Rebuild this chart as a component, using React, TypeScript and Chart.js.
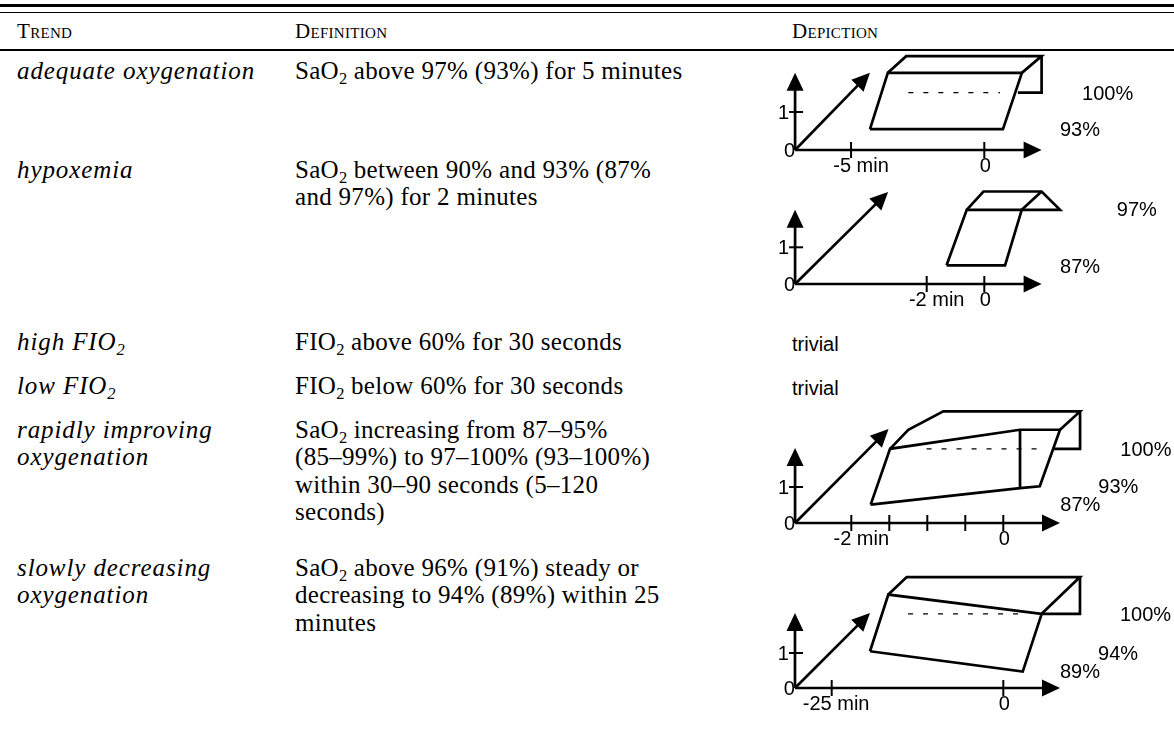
import React, { useEffect, useRef } from "react";
import { Chart, registerables } from "chart.js";

Chart.register(...registerables);

// ---------------- table text ----------------
const headers = ["Trend", "Definition", "Depiction"];

const trendRows: string[][] = [
  ["adequate oxygenation"],
  ["hypoxemia"],
  ["high FIO_2"],
  ["low FIO_2"],
  ["rapidly improving", "oxygenation"],
  ["slowly decreasing", "oxygenation"],
];

const definitionRows: string[][] = [
  ["SaO_2 above 97% (93%) for 5 minutes"],
  ["SaO_2 between 90% and 93% (87%", "and 97%) for 2 minutes"],
  ["FIO_2 above 60% for 30 seconds"],
  ["FIO_2 below 60% for 30 seconds"],
  [
    "SaO_2 increasing from 87\u201395%",
    "(85\u201399%) to 97\u2013100% (93\u2013100%)",
    "within 30\u201390 seconds (5\u2013120",
    "seconds)",
  ],
  [
    "SaO_2 above 96% (91%) steady or",
    "decreasing to 94% (89%) within 25",
    "minutes",
  ],
];

const depictionText: (string | null)[] = [null, null, "trivial", "trivial", null, null];

// ---------------- diagram data (x: minutes, y: level) ----------------
// 1: adequate oxygenation
const d1AxisX = [-7.1, 2.15];
const d1AxisY = 2.03;
const d1Diag = [-4.29, 2.03];
const d1XTicks = [-5, 0];
const d1XTickLabels = ["-5 min", "0"];
const d1YTicks = [1];
const d1Front = [[-4.29, 0.55], [0.7, 0.55], [1.41, 2.03], [-3.62, 2.03], [-4.29, 0.55]];
const d1Top = [[-3.62, 2.03], [-2.93, 2.47], [2.15, 2.47], [1.41, 2.03]];
const d1Flap = [[2.15, 2.47], [2.15, 1.51], [1.26, 1.51]];
const d1Dashed = [[-2.85, 1.51], [0.59, 1.51]];
const d1LevelLabels = ["100%", "93%"];
const d1LevelValues = [1.5, 0.55];
const d1LevelX = [3.67, 2.84];

// 2: hypoxemia
const d2AxisX = [-6.57, 1.99];
const d2AxisY = 2.02;
const d2Diag = [-3.34, 2.51];
const d2XTicks = [-2, 0];
const d2XTickLabels = ["-2 min", "0"];
const d2YTicks = [1];
const d2Front = [[-1.31, 0.51], [0.72, 0.51], [1.3, 2.02], [-0.61, 2.02], [-1.31, 0.51]];
const d2Top = [[-0.61, 2.02], [-0.03, 2.52], [1.99, 2.52], [2.63, 2.02], [1.3, 2.02]];
const d2Inner = [[1.3, 2.02], [1.99, 2.52]];
const d2LevelLabels = ["97%", "87%"];
const d2LevelValues = [2.02, 0.49];
const d2LevelX = [4.6, 2.63];

// 3: rapidly improving oxygenation
const d3AxisX = [-2.74, 0.746];
const d3AxisY = 2.08;
const d3Diag = [-1.51, 2.61];
const d3XTicks = [-2, -1.5, -1, -0.5, 0];
const d3XTickLabels = ["-2 min", "", "", "", "0"];
const d3YTicks = [1];
const d3Front = [
  [-1.745, 0.51], [-1.49, 2.06], [0.22, 2.59], [0.746, 2.59],
  [0.48, 1.02], [0.22, 0.97], [-1.745, 0.51],
];
const d3Split = [[0.22, 2.59], [0.22, 0.97]];
const d3Top = [[-1.49, 2.06], [-1.25, 2.59], [-0.79, 3.1], [1.01, 3.1], [0.746, 2.59]];
const d3Flap = [[1.01, 3.1], [1.01, 2.06], [0.66, 2.06]];
const d3Dashed = [[-1.01, 2.06], [0.48, 2.06]];
const d3LevelLabels = ["100%", "93%", "87%"];
const d3LevelValues = [2.04, 1.02, 0.51];
const d3LevelX = [1.54, 1.25, 0.75];

// 4: slowly decreasing oxygenation
const d4AxisX = [-30.35, 8.26];
const d4AxisY = 2.14;
const d4Diag = [-19.42, 2.14];
const d4XTicks = [-25, 0];
const d4XTickLabels = ["-25 min", "0"];
const d4YTicks = [1];
const d4Front = [[-19.42, 1.05], [2.83, 0.47], [5.59, 2.12], [-16.75, 2.67], [-19.42, 1.05]];
const d4Top = [[-16.75, 2.67], [-14.07, 3.17], [11.17, 3.17], [5.59, 2.12]];
const d4Flap = [[11.17, 3.17], [11.17, 2.12], [5.59, 2.12]];
const d4Dashed = [[-13.88, 2.12], [2.14, 2.12]];
const d4LevelLabels = ["100%", "94%", "89%"];
const d4LevelValues = [2.09, 0.98, 0.47];
const d4LevelX = [17.0, 13.8, 8.26];

type Spec = {
  axisX: number[];
  axisY: number;
  diag: number[];
  xTicks: number[];
  xTickLabels: string[];
  yTicks: number[];
  solid: number[][][];
  dashed: number[][][];
  levelLabels: string[];
  levelValues: number[];
  levelX: number[];
};

const specs: Spec[] = [
  {
    axisX: d1AxisX, axisY: d1AxisY, diag: d1Diag, xTicks: d1XTicks, xTickLabels: d1XTickLabels,
    yTicks: d1YTicks, solid: [d1Front, d1Top, d1Flap], dashed: [d1Dashed],
    levelLabels: d1LevelLabels, levelValues: d1LevelValues, levelX: d1LevelX,
  },
  {
    axisX: d2AxisX, axisY: d2AxisY, diag: d2Diag, xTicks: d2XTicks, xTickLabels: d2XTickLabels,
    yTicks: d2YTicks, solid: [d2Front, d2Top, d2Inner], dashed: [],
    levelLabels: d2LevelLabels, levelValues: d2LevelValues, levelX: d2LevelX,
  },
  {
    axisX: d3AxisX, axisY: d3AxisY, diag: d3Diag, xTicks: d3XTicks, xTickLabels: d3XTickLabels,
    yTicks: d3YTicks, solid: [d3Front, d3Split, d3Top, d3Flap], dashed: [d3Dashed],
    levelLabels: d3LevelLabels, levelValues: d3LevelValues, levelX: d3LevelX,
  },
  {
    axisX: d4AxisX, axisY: d4AxisY, diag: d4Diag, xTicks: d4XTicks, xTickLabels: d4XTickLabels,
    yTicks: d4YTicks, solid: [d4Front, d4Top, d4Flap], dashed: [d4Dashed],
    levelLabels: d4LevelLabels, levelValues: d4LevelValues, levelX: d4LevelX,
  },
];

// ---------------- layout ----------------
const W = 1174;
const H = 734;
const COL_X = [17, 295, 792];
const SERIF = '"Liberation Serif", "Times New Roman", serif';
const SANS = '"Liberation Sans", Arial, sans-serif';
const FS = 25;
const LINE = 27.5;
const rowBaselines = [79, 178, 350, 394, 438, 576];

// diagram placement: pixel of t=0, px per minute, origin y, px per level unit
const diagLayout = [
  { zeroX: 984.3, kx: 26.65, originY: 150, ky: 38 },
  { zeroX: 984.3, kx: 28.8, originY: 284.3, ky: 36.7 },
  { zeroX: 1003.3, kx: 76, originY: 523.3, ky: 36 },
  { zeroX: 1003.3, kx: 6.864, originY: 688.3, ky: 35 },
];
const CAN_LEFT = 760;
const CAN_W = 414;
const CAN_ABOVE = 125;
const CAN_H = 160;

function Rich({ text }: { text: string }) {
  const parts = text.split("_2");
  const out: React.ReactNode[] = [];
  parts.forEach((p, i) => {
    out.push(<span key={"p" + i}>{p}</span>);
    if (i < parts.length - 1)
      out.push(
        <span
          key={"s" + i}
          style={{ fontSize: "0.66em", position: "relative", top: "0.32em", lineHeight: 0, letterSpacing: 0 }}
        >
          2
        </span>
      );
  });
  return <>{out}</>;
}

function TextLine(props: {
  x: number;
  baseline: number;
  size: number;
  family: string;
  italic?: boolean;
  smallCaps?: boolean;
  spacing?: number;
  children: React.ReactNode;
}) {
  const lh = props.size * 1.2;
  const top = props.baseline - ((lh - 1.107 * props.size) / 2 + 0.891 * props.size);
  return (
    <div
      style={{
        position: "absolute",
        left: props.x,
        top,
        fontFamily: props.family,
        fontSize: props.size,
        lineHeight: lh + "px",
        fontStyle: props.italic ? "italic" : "normal",
        fontVariant: props.smallCaps ? "small-caps" : "normal",
        letterSpacing: props.spacing ? props.spacing + "px" : undefined,
        whiteSpace: "nowrap",
        color: "#000",
      }}
    >
      {props.children}
    </div>
  );
}

function arrow(ctx: CanvasRenderingContext2D, x0: number, y0: number, x1: number, y1: number) {
  const L = 18;
  const HW = 8.5;
  const dx = x1 - x0;
  const dy = y1 - y0;
  const len = Math.hypot(dx, dy);
  const ux = dx / len;
  const uy = dy / len;
  const bx = x1 - ux * L;
  const by = y1 - uy * L;
  ctx.beginPath();
  ctx.moveTo(x0, y0);
  ctx.lineTo(bx + ux * 2, by + uy * 2);
  ctx.stroke();
  ctx.beginPath();
  ctx.moveTo(x1, y1);
  ctx.lineTo(bx - uy * HW, by + ux * HW);
  ctx.lineTo(bx + uy * HW, by - ux * HW);
  ctx.closePath();
  ctx.fill();
}

function Diagram({ spec, layout }: { spec: Spec; layout: (typeof diagLayout)[0] }) {
  const ref = useRef<HTMLCanvasElement | null>(null);
  useEffect(() => {
    if (!ref.current) return;
    const zx = layout.zeroX - CAN_LEFT;
    const xMin = -zx / layout.kx;
    const xMax = (CAN_W - zx) / layout.kx;
    const yMax = CAN_ABOVE / layout.ky;
    const yMin = -(CAN_H - CAN_ABOVE) / layout.ky;

    const toPts = (a: number[][]) => a.map(([x, y]) => ({ x, y }));
    const datasets: any[] = [];
    spec.solid.forEach((poly) =>
      datasets.push({
        data: toPts(poly),
        showLine: true,
        borderColor: "#000",
        borderWidth: 2.7,
        pointRadius: 0,
        pointHoverRadius: 0,
        tension: 0,
        clip: false,
        fill: false,
        borderJoinStyle: "miter",
      })
    );
    spec.dashed.forEach((seg) =>
      datasets.push({
        data: toPts(seg),
        showLine: true,
        borderColor: "#000",
        borderWidth: 1.3,
        borderDash: [5, 10],
        pointRadius: 0,
        pointHoverRadius: 0,
        clip: false,
        fill: false,
      })
    );

    const axesPlugin = {
      id: "axesArrows",
      afterDatasetsDraw(chart: any) {
        const ctx: CanvasRenderingContext2D = chart.ctx;
        const xs = chart.scales.x;
        const ys = chart.scales.y;
        const X = (v: number) => xs.getPixelForValue(v);
        const Y = (v: number) => ys.getPixelForValue(v);
        const ox = X(spec.axisX[0]);
        const oy = Y(0);
        ctx.save();
        ctx.strokeStyle = "#000";
        ctx.fillStyle = "#000";
        ctx.lineWidth = 2.7;
        ctx.lineCap = "butt";
        arrow(ctx, ox, oy, X(spec.axisX[1]), oy);
        arrow(ctx, ox, oy, ox, Y(spec.axisY));
        arrow(ctx, ox, oy, X(spec.diag[0]), Y(spec.diag[1]));
        ctx.lineWidth = 2;
        ctx.font = `20px ${SANS}`;
        spec.xTicks.forEach((t, i) => {
          const tx = X(t);
          ctx.beginPath();
          ctx.moveTo(tx, oy - 8);
          ctx.lineTo(tx, oy + 8);
          ctx.stroke();
          const lab = spec.xTickLabels[i];
          if (!lab) return;
          ctx.textBaseline = "alphabetic";
          const sp = lab.indexOf(" ");
          if (sp < 0) {
            ctx.textAlign = "center";
            ctx.fillText(lab, tx + 1, oy + 22);
          } else {
            ctx.textAlign = "right";
            ctx.fillText(lab.slice(0, sp), tx, oy + 22);
            ctx.textAlign = "left";
            ctx.fillText(lab.slice(sp), tx, oy + 22);
          }
        });
        spec.yTicks.forEach((v) => {
          const ty = Y(v);
          ctx.beginPath();
          ctx.moveTo(ox - 6, ty);
          ctx.lineTo(ox + 8, ty);
          ctx.stroke();
          ctx.textAlign = "right";
          ctx.textBaseline = "middle";
          ctx.fillText(String(v), ox - 6, ty + 1);
        });
        ctx.textAlign = "right";
        ctx.textBaseline = "middle";
        ctx.fillText("0", ox, oy + 1);
        ctx.textAlign = "left";
        spec.levelLabels.forEach((lab, i) => {
          ctx.fillText(lab, X(spec.levelX[i]), Y(spec.levelValues[i]) + 1);
        });
        ctx.restore();
      },
    };

    const chart = new Chart(ref.current, {
      type: "scatter",
      data: { datasets },
      options: {
        animation: false,
        responsive: false,
        maintainAspectRatio: false,
        events: [],
        layout: { padding: 0 },
        plugins: { legend: { display: false }, tooltip: { enabled: false } },
        scales: {
          x: { type: "linear", display: false, min: xMin, max: xMax },
          y: { type: "linear", display: false, min: yMin, max: yMax },
        },
      },
      plugins: [axesPlugin],
    } as any);
    return () => chart.destroy();
  }, [spec, layout]);

  return (
    <canvas
      ref={ref}
      width={CAN_W}
      height={CAN_H}
      style={{
        position: "absolute",
        left: CAN_LEFT,
        top: layout.originY - CAN_ABOVE,
        width: CAN_W,
        height: CAN_H,
      }}
    />
  );
}

export default function App() {
  let diagIndex = 0;
  const diagramRows = depictionText.map((d) => (d === null ? diagIndex++ : -1));
  return (
    <div
      style={{
        position: "absolute",
        left: 0,
        top: 0,
        width: W,
        height: H,
        background: "#fff",
        overflow: "hidden",
      }}
    >
      {/* rules */}
      <div style={{ position: "absolute", left: 0, top: 4, width: W, height: 3, background: "#000" }} />
      <div style={{ position: "absolute", left: 0, top: 11.5, width: W, height: 1.4, background: "#000" }} />
      <div style={{ position: "absolute", left: 0, top: 49, width: W, height: 1.8, background: "#000" }} />

      {headers.map((h, i) => (
        <TextLine key={h} x={COL_X[i]} baseline={39} size={21} family={SERIF} smallCaps spacing={0.3}>
          {h}
        </TextLine>
      ))}

      {trendRows.map((lines, r) =>
        lines.map((ln, j) => (
          <TextLine
            key={"t" + r + j}
            x={COL_X[0]}
            baseline={rowBaselines[r] + j * LINE}
            size={FS}
            family={SERIF}
            italic
            spacing={0.9}
          >
            <Rich text={ln} />
          </TextLine>
        ))
      )}

      {definitionRows.map((lines, r) =>
        lines.map((ln, j) => (
          <TextLine
            key={"d" + r + j}
            x={COL_X[1]}
            baseline={rowBaselines[r] + j * LINE}
            size={FS}
            family={SERIF}
            spacing={0.3}
          >
            <Rich text={ln} />
          </TextLine>
        ))
      )}

      {depictionText.map((t, r) =>
        t ? (
          <TextLine key={"p" + r} x={COL_X[2]} baseline={rowBaselines[r] + 1} size={20} family={SANS}>
            {t}
          </TextLine>
        ) : null
      )}

      {diagramRows.map((di, r) =>
        di >= 0 ? <Diagram key={"g" + r} spec={specs[di]} layout={diagLayout[di]} /> : null
      )}
    </div>
  );
}
